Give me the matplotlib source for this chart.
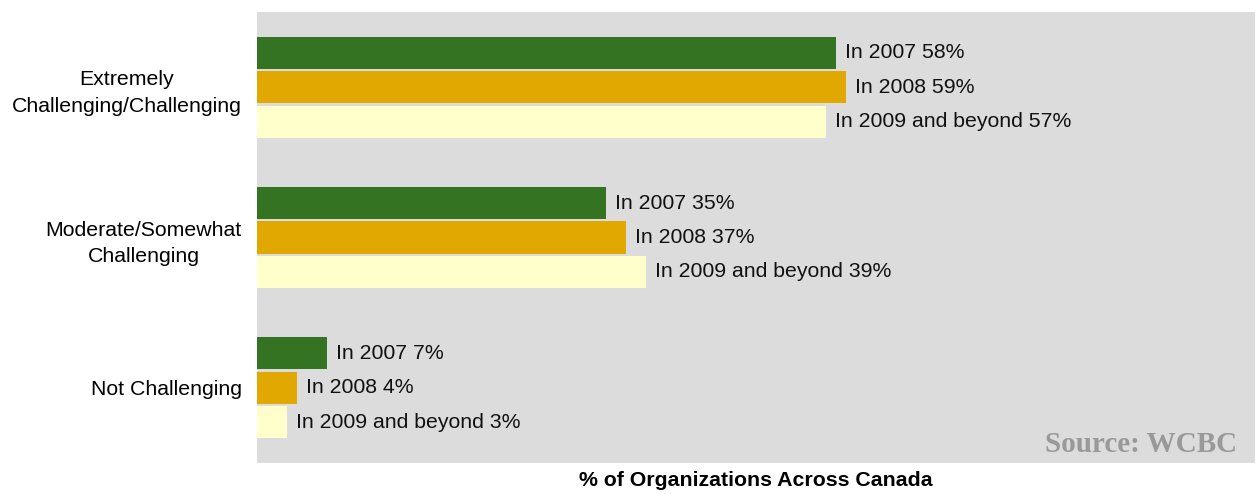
import matplotlib
matplotlib.use("Agg")
import matplotlib.pyplot as plt
import numpy as np

plt.rcParams['font.family'] = ['Liberation Sans', 'DejaVu Sans']

categories = ["Extremely\nChallenging/Challenging", "Moderate/Somewhat\nChallenging", "Not Challenging"]
series_names = ["In 2007", "In 2008", "In 2009 and beyond"]
values_2007 = [58, 35, 7]
values_2008 = [59, 37, 4]
values_2009 = [57, 39, 3]
series_values = [values_2007, values_2008, values_2009]
colors = ["#347321", "#E0A800", "#FFFFCC"]

fig = plt.figure(figsize=(12.6, 4.94), dpi=100)
ax = fig.add_axes([257 / 1260, 31 / 494, 998 / 1260, 451 / 494])
ax.set_facecolor("#DCDCDC")

y = np.arange(len(categories))
bar_h = 0.213
step = 0.229
for i, (name, vals, col) in enumerate(zip(series_names, series_values, colors)):
    pos = y + (i - 1) * step
    ax.barh(pos, vals, height=bar_h, color=col, edgecolor="none", zorder=2)
    for p, v in zip(pos, vals):
        ax.annotate(f"{name} {v}%", xy=(v, p), xytext=(6.5, 0), textcoords="offset points",
                    ha="left", va="center", fontsize=15.3, color="#111111")

ax.set_xlim(0, 100)
ax.set_ylim(2.5, -0.5)
ax.set_yticks(y)
ax.set_yticklabels(categories, fontsize=15.3, linespacing=1.5)
for lbl in ax.get_yticklabels():
    lbl.set_multialignment("center")
ax.tick_params(axis="y", length=0, pad=11)
ax.set_xticks([])
for s in ax.spines.values():
    s.set_visible(False)

ax.set_xlabel("% of Organizations Across Canada", fontsize=15.3, fontweight="bold", labelpad=6)

ax.text(0.982, 0.025, "Source: WCBC", transform=ax.transAxes, ha="right", va="baseline",
        fontsize=21, fontweight="bold", color="#999999", family="Liberation Serif")

fig.savefig("out.png", dpi=100)
